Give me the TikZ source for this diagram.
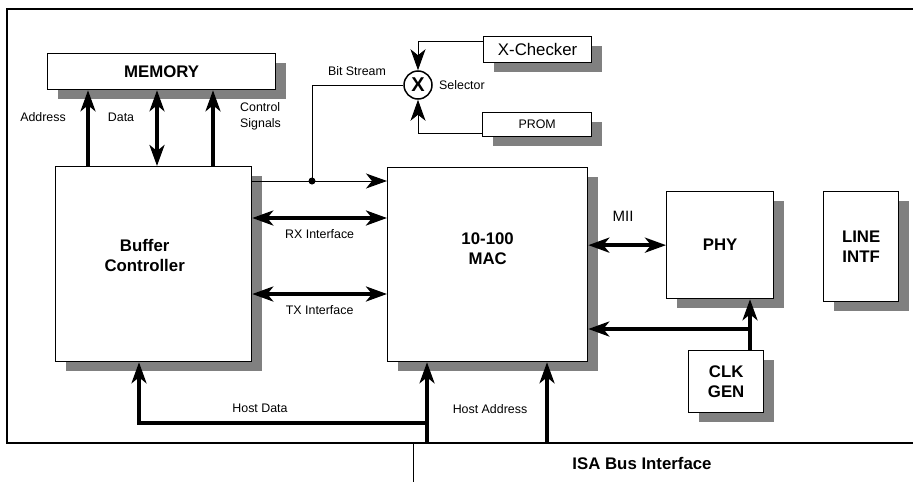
\documentclass[tikz,border=0pt]{standalone}
\usepackage{fontspec}
\setmainfont{Liberation Sans}
\usetikzlibrary{arrows.meta,shadows}
\definecolor{shadowgray}{gray}{0.5}
\tikzset{
  box/.style={draw, line width=1.3pt, fill=white, inner sep=0pt, align=center,
    drop shadow={shadow xshift=10pt, shadow yshift=-9pt, fill=shadowgray, opacity=1}},
  boxfont/.style={font=\fontsize{16.8}{20}\selectfont\bfseries},
  lbl/.style={font=\fontsize{12.4}{16}\selectfont, inner sep=0pt},
  bus/.style={line width=3.5pt},
  sig/.style={line width=1pt},
}
\begin{document}
\begin{tikzpicture}[x=1pt, y=-1pt, >={Stealth[length=21pt,width=15pt,inset=6pt]}]
    \useasboundingbox (0,0) rectangle (913,482);
    \draw[line width=2.5pt] (913,9) -- (7,9) -- (7,443) -- (913,443);
    \draw[sig] (413,443) -- (413,482);
    \node[boxfont] (isa) at (642,463) {ISA Bus Interface};

    \node[box, boxfont, anchor=north west, minimum width=228, minimum height=36] (mem) at (47,53) {MEMORY};
    \node[box, anchor=north west, minimum width=196, minimum height=195,
      label={[boxfont, align=center, xshift=-9pt, yshift=9pt]center:Buffer\\Controller}] (buf) at (55,166) {};
    \node[box, anchor=north west, minimum width=200, minimum height=194,
      label={[boxfont, align=center, yshift=16pt]center:10-100\\MAC}] (mac) at (387,167) {};
    \node[box, boxfont, anchor=north west, minimum width=107, minimum height=107] (phy) at (666,191) {PHY};
    \node[box, boxfont, anchor=north west, minimum width=75, minimum height=110] (line) at (823,191) {LINE\\INTF};
    \node[box, boxfont, anchor=north west, minimum width=75, minimum height=62] (clk) at (688,350) {CLK\\GEN};
    \node[box, font=\fontsize{16.8}{20}\selectfont, anchor=north west, minimum width=108, minimum height=26] (xchk) at (483,36) {X-Checker};
    \node[box, lbl, anchor=north west, minimum width=109, minimum height=24] (prom) at (482,112) {PROM};
    \node[circle, draw, line width=1.5pt, minimum size=28, inner sep=0pt,
      font=\fontsize{20}{20}\selectfont\bfseries] (sel) at (418,85) {X};

    \coordinate (adr) at (88,0);
    \coordinate (dat) at (157,0);
    \coordinate (ctl) at (213,0);
    \draw[bus,->] (buf.north -| adr) -- (mem.south -| adr);
    \draw[bus,<->] (buf.north -| dat) -- (mem.south -| dat);
    \draw[bus,->] (buf.north -| ctl) -- (mem.south -| ctl);
    \node[lbl] (adrl) at (43,117) {Address};
    \node[lbl] (datl) at (121,117) {Data};
    \node[lbl, anchor=west, align=left] (ctll) at (240,116) {Control\\Signals};

    \coordinate (bs) at (312,181);
    \draw[sig,->] (buf.east |- bs) -- (mac.west |- bs);
    \draw[sig] (bs) |- (sel.west);
    \fill (bs) circle (3.5pt);
    \draw[sig,->] ([yshift=-5pt]xchk.north west) -| (sel.north);
    \draw[sig,->] ([yshift=4pt]prom.south west) -| (sel.south);
    \node[lbl] (bsl) at (357,71) {Bit Stream};
    \node[lbl, anchor=west] (sell) at (439,85) {Selector};

    \coordinate (rx) at (0,218);
    \coordinate (tx) at (0,294);
    \draw[bus,<->] (buf.east |- rx) -- node[lbl, below=10pt] {RX Interface} (mac.west |- rx);
    \draw[bus,<->] (buf.east |- tx) -- node[lbl, below=10pt] {TX Interface} (mac.west |- tx);

    \draw[bus,<->] (mac.east |- phy.west) -- (phy.west);
    \node[font=\fontsize{15}{18}\selectfont, inner sep=0pt] (mii) at (623,216) {MII};

    \coordinate (clkx) at (750,0);
    \coordinate (ck) at (0,329);
    \draw[bus,->] (clk.north -| clkx) -- (phy.south -| clkx);
    \draw[bus,->] (clkx |- ck) -- (mac.east |- ck);

    \coordinate (hd) at (427,443);
    \coordinate (ha) at (547,443);
    \coordinate (hdc) at (139,423);
    \draw[bus,->] (hd) -- (mac.south -| hd);
    \draw[bus,->] (hd |- hdc) -- (hdc) -- (buf.south -| hdc);
    \draw[bus,->] (ha) -- (mac.south -| ha);
    \node[lbl] (hdl) at (260,408) {Host Data};
    \node[lbl] (hal) at (490,409) {Host Address};
\end{tikzpicture}
\end{document}
